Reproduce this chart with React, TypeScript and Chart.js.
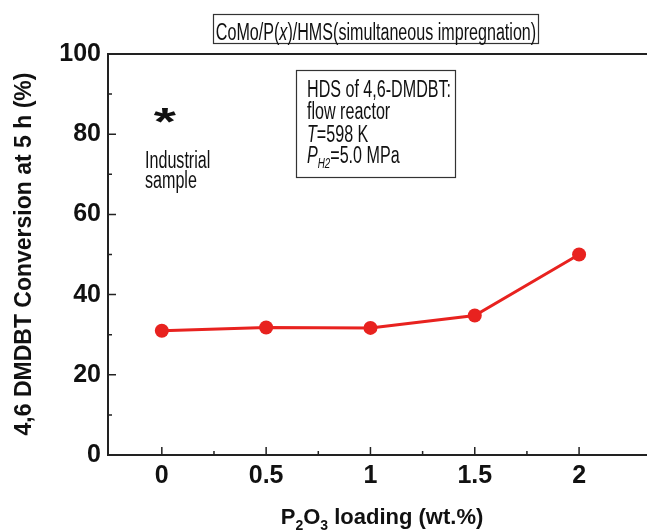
import React, { useEffect, useRef } from "react";
import { Chart, registerables } from "chart.js";

Chart.register(...registerables);

const loadings = [0, 0.5, 1, 1.5, 2];
const conversion = [31, 31.8, 31.7, 34.8, 50];
const industrialLoading = [0];
const industrialConversion = [84];
const xTickValues = [0, 0.5, 1, 1.5, 2];
const xTickLabels = ["0", "0.5", "1", "1.5", "2"];
const yTickValues = [0, 20, 40, 60, 80, 100];
const yTickLabels = ["0", "20", "40", "60", "80", "100"];

const FONT = "'Liberation Sans', Arial, sans-serif";
const NARROW = 0.7;

type Run = { t: string; style?: string; dy?: number; size?: number };

function drawRuns(
  ctx: CanvasRenderingContext2D,
  runs: Run[],
  x: number,
  y: number,
  base: string,
  size: number,
  align: "left" | "center",
  sx = 1
) {
  const widths = runs.map((r) => {
    ctx.font = `${r.style || base} ${r.size || size}px ${FONT}`;
    return ctx.measureText(r.t).width * sx;
  });
  const total = widths.reduce((a, b) => a + b, 0);
  let cx = align === "center" ? x - total / 2 : x;
  runs.forEach((r, i) => {
    ctx.font = `${r.style || base} ${r.size || size}px ${FONT}`;
    ctx.save();
    ctx.translate(cx, y + (r.dy || 0));
    ctx.scale(sx, 1);
    ctx.textAlign = "left";
    ctx.textBaseline = "alphabetic";
    ctx.fillText(r.t, 0, 0);
    ctx.restore();
    cx += widths[i];
  });
}

function drawCentered(ctx: CanvasRenderingContext2D, t: string, x: number, cy: number, font: string, align: CanvasTextAlign, sx = 1) {
  ctx.font = font;
  const m = ctx.measureText(t);
  const base = cy + (m.actualBoundingBoxAscent - m.actualBoundingBoxDescent) / 2;
  ctx.save();
  ctx.translate(x, base);
  ctx.scale(sx, 1);
  ctx.textAlign = align;
  ctx.textBaseline = "alphabetic";
  ctx.fillText(t, 0, 0);
  ctx.restore();
}

const decorPlugin = {
  id: "decor",
  afterDraw(chart: any) {
    const ctx: CanvasRenderingContext2D = chart.ctx;
    const xs = chart.scales.x;
    const ys = chart.scales.y;
    const area = chart.chartArea;
    ctx.save();
    ctx.strokeStyle = "#222";
    ctx.fillStyle = "#111";
    // axes frame
    ctx.lineWidth = 2;
    ctx.beginPath();
    ctx.moveTo(660, area.top);
    ctx.lineTo(area.left, area.top);
    ctx.lineTo(area.left, area.bottom);
    ctx.lineTo(660, area.bottom);
    ctx.stroke();
    // tick marks
    ctx.lineWidth = 1.5;
    ctx.beginPath();
    for (let v = 0; v <= 2.001; v += 0.25) {
      const px = xs.getPixelForValue(v);
      const major = Math.abs(v * 2 - Math.round(v * 2)) < 1e-6;
      ctx.moveTo(px, area.bottom);
      ctx.lineTo(px, area.bottom - (major ? 8 : 4));
    }
    for (let v = 10; v < 100; v += 10) {
      const py = ys.getPixelForValue(v);
      const major = v % 20 === 0;
      ctx.moveTo(area.left, py);
      ctx.lineTo(area.left + (major ? 8 : 4), py);
    }
    ctx.stroke();

    // tick labels
    ctx.fillStyle = "#111";
    xTickValues.forEach((v, i) => {
      drawCentered(ctx, xTickLabels[i], xs.getPixelForValue(v), 474, `bold 25px ${FONT}`, "center");
    });
    yTickValues.forEach((v, i) => {
      drawCentered(ctx, yTickLabels[i], 101, ys.getPixelForValue(v) - 2, `bold 25px ${FONT}`, "right");
    });

    // title box
    ctx.lineWidth = 1.2;
    ctx.strokeStyle = "#333";
    ctx.strokeRect(213.5, 14.5, 325, 29);
    drawRuns(ctx, [
      { t: "CoMo/P(" },
      { t: "x", style: "italic" },
      { t: ")/HMS(simultaneous impregnation)" },
    ], 376, 40, "normal", 23, "center", NARROW);

    // condition box
    ctx.strokeRect(296.5, 70.5, 159, 107);
    drawRuns(ctx, [{ t: "HDS of 4,6-DMDBT:" }], 307, 97, "normal", 23, "left", NARROW);
    drawRuns(ctx, [{ t: "flow reactor" }], 307, 119, "normal", 23, "left", NARROW);
    drawRuns(ctx, [{ t: "T", style: "italic" }, { t: "=598 K" }], 307, 142, "normal", 23, "left", NARROW);
    drawRuns(ctx, [
      { t: "P", style: "italic" },
      { t: "H2", style: "italic", size: 14, dy: 5 },
      { t: "=5.0 MPa" },
    ], 307, 163, "normal", 23, "left", NARROW);

    // industrial sample asterisk
    industrialLoading.forEach((xv, i) => {
      const px = xs.getPixelForValue(xv);
      const py = ys.getPixelForValue(industrialConversion[i]);
      drawCentered(ctx, "*", px + 3, py - 3, `bold 38px ${FONT}`, "center", 1.5);
    });
    drawRuns(ctx, [{ t: "Industrial" }], 145, 168, "normal", 23, "left", NARROW);
    drawRuns(ctx, [{ t: "sample" }], 145, 188, "normal", 23, "left", NARROW);

    // x axis title
    drawRuns(ctx, [
      { t: "P" },
      { t: "2", size: 14, dy: 6 },
      { t: "O" },
      { t: "3", size: 14, dy: 6 },
      { t: " loading (wt.%)" },
    ], 382, 524, "bold", 22, "center");

    // y axis title
    ctx.save();
    ctx.translate(31, 254);
    ctx.rotate(-Math.PI / 2);
    ctx.font = `bold 23px ${FONT}`;
    ctx.textAlign = "center";
    ctx.textBaseline = "alphabetic";
    ctx.fillText("4,6 DMDBT Conversion at 5 h (%)", 0, 0);
    ctx.restore();

    ctx.restore();
  },
};

export default function App() {
  const ref = useRef<HTMLCanvasElement>(null);
  useEffect(() => {
    if (!ref.current) return;
    const chart = new Chart(ref.current, {
      type: "line",
      data: {
        datasets: [
          {
            data: loadings.map((x, i) => ({ x, y: conversion[i] })),
            borderColor: "#e8221f",
            backgroundColor: "#e8221f",
            borderWidth: 3,
            pointRadius: 7,
            pointBorderWidth: 0,
            pointBackgroundColor: "#e8221f",
            tension: 0,
          },
        ],
      },
      options: {
        responsive: false,
        animation: false,
        layout: { padding: { left: 0, right: 0, top: 54, bottom: 0 } },
        plugins: { legend: { display: false }, tooltip: { enabled: false }, title: { display: false } },
        scales: {
          x: {
            type: "linear",
            min: -0.258,
            max: 2.292,
            grid: { display: false },
            border: { display: false },
            ticks: { display: false },
            afterFit: (s: any) => {
              s.height = 76;
            },
          },
          y: {
            min: 0,
            max: 100,
            grid: { display: false },
            border: { display: false },
            ticks: { display: false },
            afterFit: (s: any) => {
              s.width = 108;
            },
          },
        },
      },
      plugins: [decorPlugin],
    });
    return () => chart.destroy();
  }, []);
  return (
    <div style={{ position: "fixed", left: 0, top: 0, width: 647, height: 531, background: "#fff", overflow: "hidden" }}>
      <canvas ref={ref} width={647} height={531} style={{ width: 647, height: 531 }} />
    </div>
  );
}
